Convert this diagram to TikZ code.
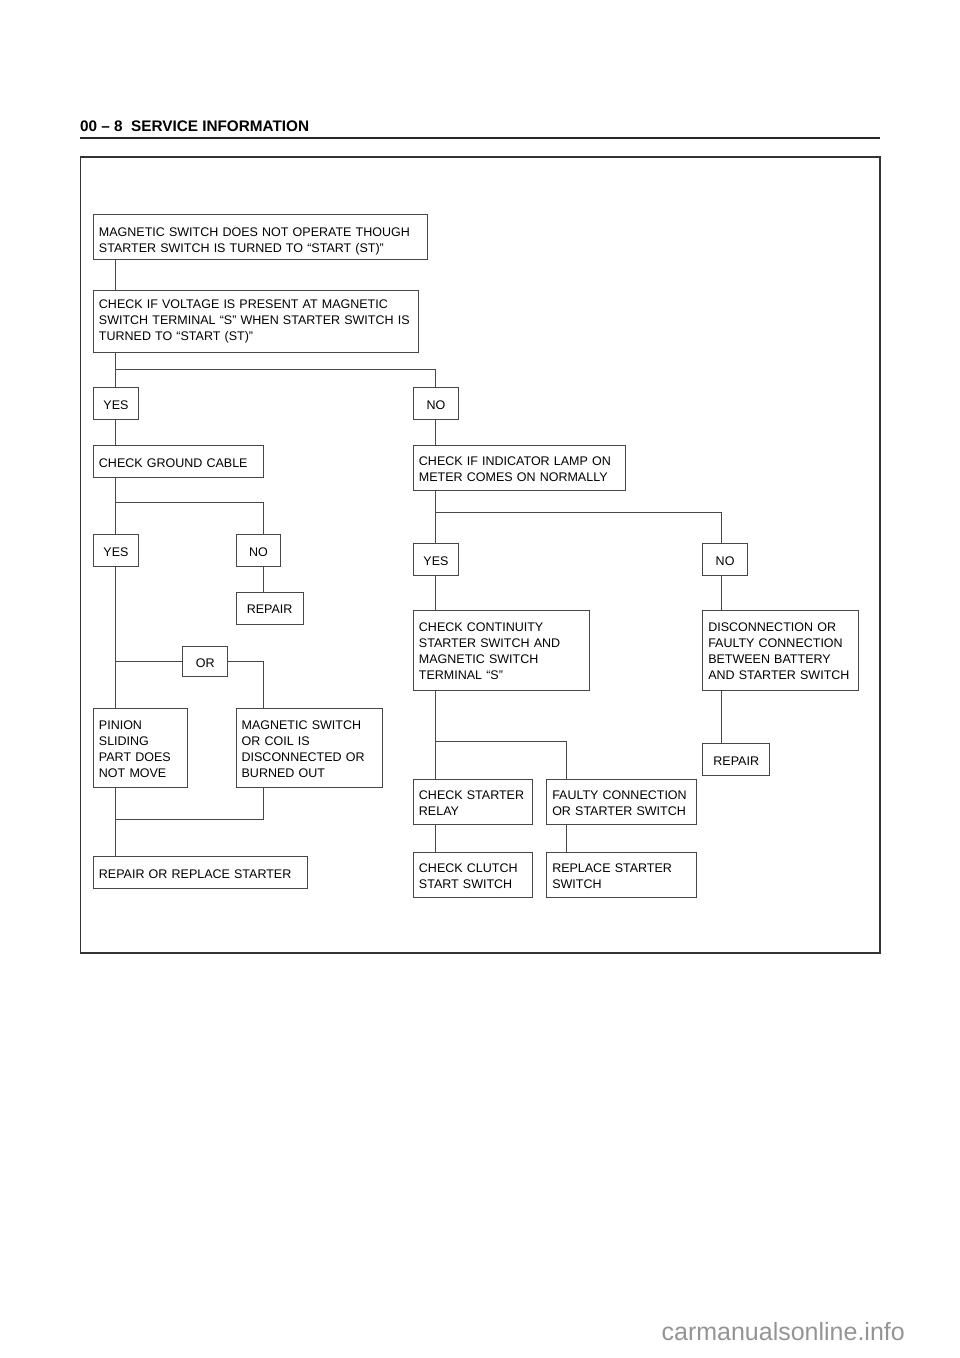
\documentclass[tikz,border=0pt]{standalone}
\usepackage{fontspec}
\setmainfont{Liberation Sans}
\begin{document}
\begin{tikzpicture}[x=1pt,y=-1pt,
  box/.style={draw=black!72, line width=0.9pt, inner xsep=5.5pt, inner ysep=0pt, align=left,
    font=\fontsize{12.5}{16}\selectfont, text=black},
  ctr/.style={align=center},
  conn/.style={draw=black!72, line width=0.9pt}]
\useasboundingbox (0,0) rectangle (960,1358);
\newcommand{\mybox}[8][]{%
  \pgfmathsetmacro{\bw}{#5-#3}\pgfmathsetmacro{\bh}{#6-#4}\pgfmathsetmacro{\tw}{#5-#3-11}%
  \node[box, anchor=north west, minimum width=\bw pt, minimum height=\bh pt, text width=\tw pt, #1] (#2) at (#3,#4)
   {\raisebox{-#7pt}[\height][\depth]{\begin{tabular}{@{}l@{}}#8\end{tabular}}};}
% header
\node[anchor=base west, inner sep=0, font=\bfseries\fontsize{15.3}{18}\selectfont] (hdr) at (80,131) {00 – 8\hspace{0.55em}SERVICE INFORMATION};
\draw[line width=2pt, black!85] (80,138) -- (880,138);
\draw[line width=1.3pt, black!80] (80.7,157) rectangle (880,953);
% boxes
\mybox{b1}{93}{214}{427}{259}{4.5}{MAGNETIC SWITCH DOES NOT OPERATE THOUGH\\STARTER SWITCH IS TURNED TO “START (ST)”}
\mybox{b2}{93}{290}{418}{352}{0}{CHECK IF VOLTAGE IS PRESENT AT MAGNETIC\\SWITCH TERMINAL “S” WHEN STARTER SWITCH IS\\TURNED TO “START (ST)”}
\mybox[ctr]{yes1}{93}{387}{138}{419}{2.6}{YES}
\mybox[ctr]{no1}{413}{387}{458}{419}{2.6}{NO}
\mybox{ground}{93}{445}{262.5}{477}{2.6}{CHECK GROUND CABLE}
\mybox{ind}{413}{445}{624.7}{490}{2.6}{CHECK IF INDICATOR LAMP ON\\METER COMES ON NORMALLY}
\mybox[ctr]{yes2}{93}{534}{138}{565.5}{2.6}{YES}
\mybox[ctr]{no2}{235.7}{534}{280.3}{565.5}{2.6}{NO}
\mybox[ctr]{rep2}{235.7}{591.5}{302.7}{623.7}{2.6}{REPAIR}
\mybox[ctr]{yes3}{413}{543}{458}{574.5}{2.6}{YES}
\mybox[ctr]{no3}{702.3}{543}{747}{574.5}{2.6}{NO}
\mybox{cont}{413}{610}{589.3}{690}{1.8}{CHECK CONTINUITY\\STARTER SWITCH AND\\MAGNETIC SWITCH\\TERMINAL “S”}
\mybox{disc}{702.3}{610}{858.3}{690}{1.8}{DISCONNECTION OR\\FAULTY CONNECTION\\BETWEEN BATTERY\\AND STARTER SWITCH}
\mybox[ctr]{rep3}{702.3}{743}{769.3}{774.7}{2.6}{REPAIR}
\mybox[ctr]{or}{182.3}{645.7}{227.3}{676.3}{2.6}{OR}
\mybox{pinion}{93}{708}{187.3}{787.3}{2.2}{PINION\\SLIDING\\PART DOES\\NOT MOVE}
\mybox{mag}{235.7}{708}{382.3}{787.3}{2.2}{MAGNETIC SWITCH\\OR COIL IS\\DISCONNECTED OR\\BURNED OUT}
\mybox{reprep}{93}{856}{307}{887.7}{2.6}{REPAIR OR REPLACE STARTER}
\mybox{relay}{413}{779}{531.7}{823.7}{2.6}{CHECK STARTER\\RELAY}
\mybox{faulty}{546.3}{779}{696}{823.7}{2.6}{FAULTY CONNECTION\\OR STARTER SWITCH}
\mybox{clutch}{413}{852}{531.7}{896.7}{2.6}{CHECK CLUTCH\\START SWITCH}
\mybox{replace}{546.3}{852}{696}{896.7}{2.6}{REPLACE STARTER\\SWITCH}
% helper coordinates
\coordinate (xl) at (115.3,0);
\coordinate (xm) at (263,0);
\coordinate (xr) at (435.7,0);
\coordinate (xn) at (721,0);
\coordinate (xf) at (566.7,0);
\coordinate (j1) at (0,369.3);
\coordinate (j2) at (0,502.7);
\coordinate (j3) at (0,819.3);
\coordinate (j4) at (0,512);
\coordinate (j5) at (0,741);
% connectors
\draw[conn] (b1.south -| xl) -- (b2.north -| xl);
\draw[conn] (b2.south -| xl) -- (yes1.north -| xl);
\draw[conn] (xl |- j1) -| (no1.north -| xr);
\draw[conn] (yes1.south -| xl) -- (ground.north -| xl);
\draw[conn] (no1.south -| xr) -- (ind.north -| xr);
\draw[conn] (ground.south -| xl) -- (yes2.north -| xl);
\draw[conn] (xl |- j2) -| (no2.north -| xm);
\draw[conn] (no2.south -| xm) -- (rep2.north -| xm);
\draw[conn] (yes2.south -| xl) -- (pinion.north -| xl);
\draw[conn] (xl |- or.west) -- (or.west);
\draw[conn] (or.east) -| (mag.north -| xm);
\draw[conn] (pinion.south -| xl) -- (reprep.north -| xl);
\draw[conn] (mag.south -| xm) |- (xl |- j3);
\draw[conn] (ind.south -| xr) -- (yes3.north -| xr);
\draw[conn] (xr |- j4) -| (no3.north -| xn);
\draw[conn] (yes3.south -| xr) -- (cont.north -| xr);
\draw[conn] (no3.south -| xn) -- (disc.north -| xn);
\draw[conn] (disc.south -| xn) -- (rep3.north -| xn);
\draw[conn] (cont.south -| xr) -- (relay.north -| xr);
\draw[conn] (xr |- j5) -| (faulty.north -| xf);
\draw[conn] (relay.south -| xr) -- (clutch.north -| xr);
\draw[conn] (faulty.south -| xf) -- (replace.north -| xf);
% watermark
\node[anchor=base east, inner sep=0, text=black!42, font=\fontsize{25}{30}\selectfont] (wm) at (905,1340) {carmanualsonline.info};
\end{tikzpicture}
\end{document}
